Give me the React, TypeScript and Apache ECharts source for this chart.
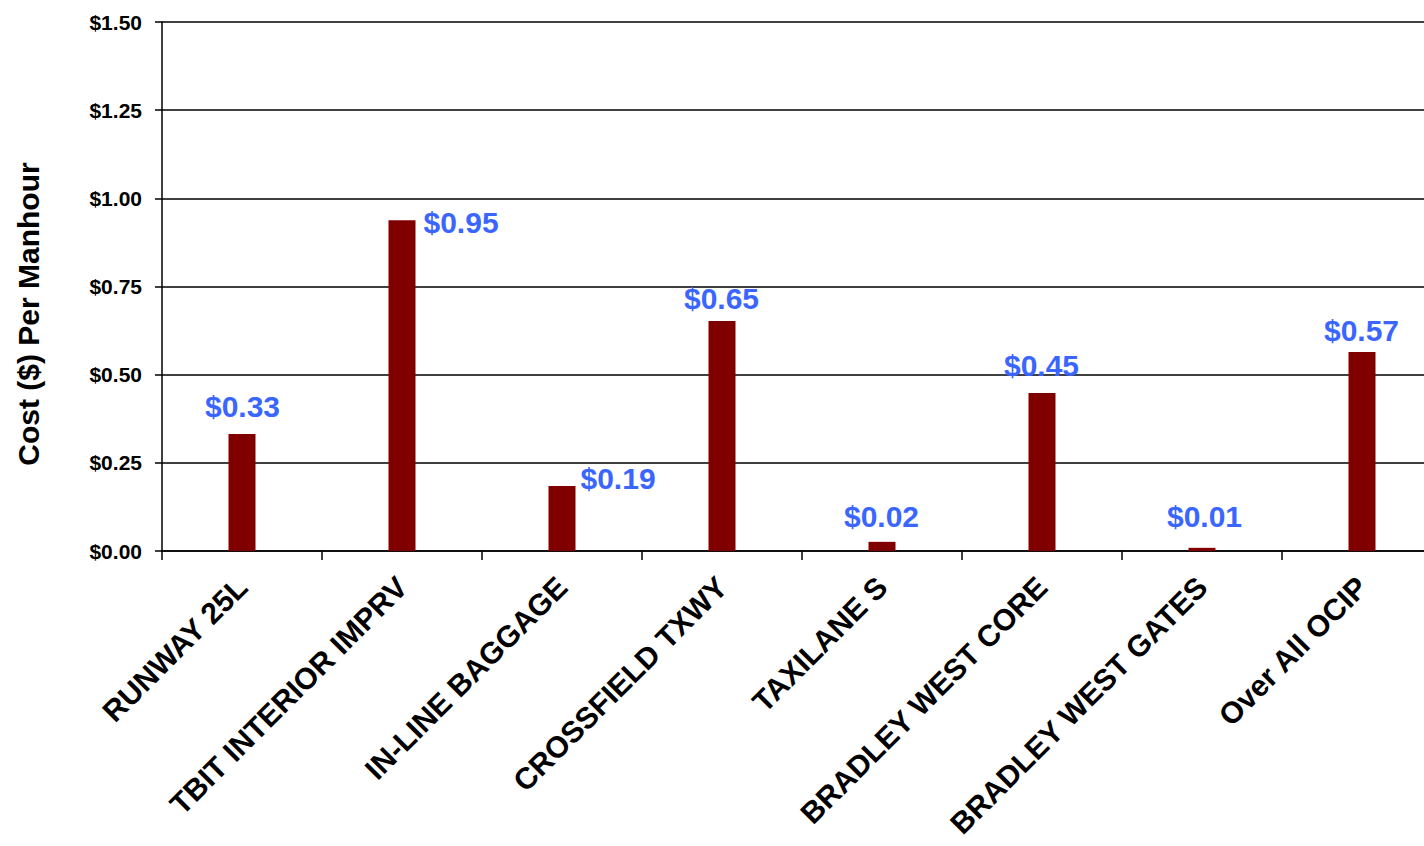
import React, { useEffect, useRef } from "react";
import * as echarts from "echarts";

const categories = [
  "RUNWAY 25L",
  "TBIT INTERIOR IMPRV",
  "IN-LINE BAGGAGE",
  "CROSSFIELD TXWY",
  "TAXILANE S",
  "BRADLEY WEST CORE",
  "BRADLEY WEST GATES",
  "Over All OCIP",
];
const costPerManhour = [0.332, 0.938, 0.184, 0.652, 0.026, 0.448, 0.009, 0.564];
const valueLabels = ["$0.33", "$0.95", "$0.19", "$0.65", "$0.02", "$0.45", "$0.01", "$0.57"];
const yTicks = [0, 0.25, 0.5, 0.75, 1.0, 1.25, 1.5];

// label placement relative to bar top-left: [dx, dy, align]
const labelPlacement: [number, number, string][] = [
  [14, -27, "center"],
  [35, 2, "left"],
  [32, -8, "left"],
  [13, -23, "center"],
  [13, -25, "center"],
  [13, -28, "center"],
  [16, -31, "center"],
  [13, -22, "center"],
];

const FONT = "Arial, 'Liberation Sans', sans-serif";

export default function App() {
  const ref = useRef<HTMLDivElement>(null);
  useEffect(() => {
    if (!ref.current) return;
    const chart = echarts.init(ref.current, null, { renderer: "svg" });
    chart.setOption({
      animation: false,
      backgroundColor: "#ffffff",
      grid: {
        left: 162,
        right: -18,
        top: 22,
        bottom: 295,
        containLabel: false,
        outerBoundsMode: "none",
      },
      graphic: [
        {
          type: "text",
          x: 28,
          y: 314,
          rotation: Math.PI / 2,
          style: {
            text: "Cost ($) Per Manhour",
            font: `bold 30px ${FONT}`,
            fill: "#000",
            align: "center",
            verticalAlign: "middle",
          },
        },
      ],
      xAxis: {
        type: "category",
        data: categories,
        axisLine: { lineStyle: { color: "#000", width: 1.5 } },
        axisTick: { show: true, length: 9, lineStyle: { color: "#000", width: 1.5 } },
        axisLabel: {
          rotate: 45,
          interval: 0,
          margin: 31,
          color: "#000",
          fontFamily: FONT,
          fontWeight: "bold",
          fontSize: 30,
          hideOverlap: false,
        },
      },
      yAxis: {
        type: "value",
        min: yTicks[0],
        max: yTicks[yTicks.length - 1],
        interval: 0.25,
        axisLine: { show: true, lineStyle: { color: "#000", width: 1.5 } },
        axisTick: { show: true, length: 7, lineStyle: { color: "#000", width: 1.5 } },
        axisLabel: {
          margin: 20,
          color: "#000",
          fontFamily: FONT,
          fontWeight: "bold",
          fontSize: 21,
          formatter: (v: number) => "$" + v.toFixed(2),
        },
        splitLine: { show: true, lineStyle: { color: "#000", width: 1.5 } },
      },
      series: [
        {
          type: "bar",
          barWidth: 27,
          itemStyle: { color: "#800000" },
          data: costPerManhour.map((v, i) => ({
            value: v,
            label: {
              show: true,
              position: [labelPlacement[i][0], labelPlacement[i][1]],
              align: labelPlacement[i][2],
              verticalAlign: "middle",
              formatter: valueLabels[i],
              color: "#3A66FF",
              fontFamily: FONT,
              fontWeight: "bold",
              fontSize: 30,
            },
          })),
        },
      ],
    });
    return () => chart.dispose();
  }, []);
  return (
    <div
      ref={ref}
      style={{ position: "absolute", left: 0, top: 0, width: 1424, height: 846 }}
    />
  );
}
